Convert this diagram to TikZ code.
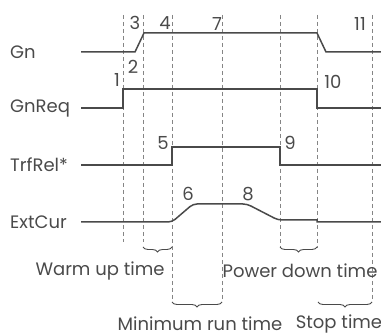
\documentclass[tikz,border=0pt]{standalone}
\usepackage{fontspec}
\setmainfont{Poppins}
\usetikzlibrary{positioning, decorations.pathreplacing}
\definecolor{ink}{HTML}{4A4A4A}
\definecolor{guidecol}{HTML}{858585}

\begin{document}
\begin{tikzpicture}[
    x=1pt, y=-1pt,
    font=\fontsize{18}{18}\selectfont,
    signal/.style={draw=ink, line width=1.5pt},
    guide/.style={draw=guidecol, line width=0.8pt, dash pattern=on 4pt off 3pt},
    sname/.style={anchor=west, text=ink, inner sep=0pt},
    num/.style={text=ink, inner sep=0pt},
    span/.style={decorate, decoration={brace, mirror, amplitude=5pt}, draw=ink, line width=0.9pt},
    spanlabel/.style={text=ink, inner sep=0pt}
  ]
  \useasboundingbox (0,0) rectangle (381,336);

  % signal names
  \node[sname] (gn)     at (10,52)  {Gn};
  \node[sname] (gnreq)  at (10,108) {GnReq};
  \node[sname] (trfrel) at (10,165) {TrfRel*};
  \node[sname] (extcur) at (10,222) {ExtCur};

  % time marks
  \foreach \x/\yb in {123/242, 143/242, 172/300, 222/300, 280/248, 317/248, 372/300}
    \draw[guide] (\x,15) -- (\x,\yb);

  % signals
  \draw[signal] (81,52) -- (135,52) -- (144,33) -- (317,33) -- (326,52) -- (381,52);
  \draw[signal] (81,108) -- (123,108) -- (123,89) -- (317,89) -- (317,108) -- (381,108);
  \draw[signal] (81,165) -- (172,165) -- (172,147) -- (280,147) -- (280,165) -- (381,165);
  \draw[signal, rounded corners=4pt] (81,222) -- (172,222) -- (193,204) -- (247,204) -- (278,220)
    [sharp corners] -- (317,220) -- (317,222) -- (381,222);

  % event numbers
  \node[num] (n1)  at (117,80)  {1};
  \node[num] (n2)  at (133,67)  {2};
  \node[num] (n3)  at (135,23)  {3};
  \node[num] (n4)  at (165,23)  {4};
  \node[num] (n5)  at (163,143) {5};
  \node[num] (n6)  at (188,194) {6};
  \node[num] (n7)  at (217,24)  {7};
  \node[num] (n8)  at (248,194) {8};
  \node[num] (n9)  at (290,143) {9};
  \node[num] (n10) at (333,82)  {10};
  \node[num] (n11) at (360,24)  {11};

  % time spans
  \draw[span] (143,247) -- (172,247);
  \draw[span] (280,247) -- (317,247);
  \draw[span] (172,302) -- (222,302);
  \draw[span] (318,302) -- (372,302);

  \node[spanlabel] (warm)  at (100,271) {Warm up time};
  \node[spanlabel] (power) at (300,271) {Power down time};
  \node[spanlabel] (minrun) at (200,324) {Minimum run time};
  \node[spanlabel] (stop)  at (339,324) {Stop time};
\end{tikzpicture}
\end{document}
